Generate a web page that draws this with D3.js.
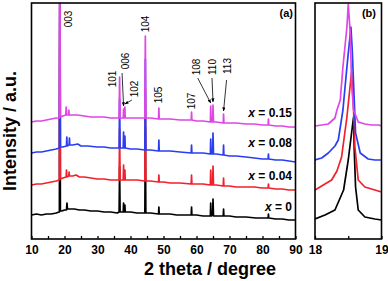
<!DOCTYPE html>
<html>
<head>
<meta charset="utf-8">
<script src="https://cdn.jsdelivr.net/npm/d3@7"></script>
<style>
  body { margin: 0; background: #fff; }
  svg { display: block; font-family: "Liberation Sans", Arial, sans-serif; }
</style>
</head>
<body>
<div id="container"></div>
<script>
const width = 388;
const height = 281;

// series names, colours
const seriesNames = ['x = 0', 'x = 0.04', 'x = 0.08', 'x = 0.15'];
const seriesColors = ['#000000', '#f2202c', '#2b3df2', '#e046e6'];

// panel (a): [2theta, intensity a.u.]
const patternX0 = [[10,24],[11.5,25],[13,24],[14.5,25],[16,25],[17.5,26],[18.3,27],[18.45,27],[18.6,280],[18.75,28],[19.2,28],[20,29],[20.6,29],[20.75,36],[20.9,30],[21.6,30],[23,30],[24.5,29],[26,29],[28,28],[30,28],[32,27],[34,27],[36,26],[36.55,27],[36.7,72],[36.85,27],[37.8,27],[37.9,36],[38.0,27],[38.2,28],[38.3,34],[38.4,27],[40,27],[42,26],[44.35,26],[44.5,112],[44.65,26],[46,26],[48.5,25],[48.6,32],[48.7,25],[50,25],[52,25],[54,24],[56,24],[58.4,24],[58.5,32],[58.6,24],[60,24],[62,23],[64.2,23],[64.3,36],[64.45,23],[64.9,24],[65.0,40],[65.15,23],[66,23],[68.1,23],[68.2,30],[68.3,23],[70,23],[72,22],[75,22],[78,21],[80,21],[81.7,21],[81.8,25],[81.9,21],[84,20],[86,20],[88,19],[90,19]];
const patternX004 = [[10,54],[11.5,55],[13,55],[14.5,56],[16,57],[17.5,58],[18.45,59],[18.6,300],[18.75,60],[19.5,61],[20.5,62],[20.6,69],[20.7,62],[21.3,63],[21.4,67],[21.5,63],[22.5,63],[23.5,64],[24.5,62],[26,62],[28,61],[30,60],[32,60],[34,59],[36.55,59],[36.7,110],[36.85,59],[37.8,59],[37.9,74],[38.0,59],[38.2,59],[38.3,69],[38.4,59],[40,59],[42,59],[44.35,58],[44.5,150],[44.65,58],[46,58],[48.5,57],[48.6,64],[48.7,57],[50,57],[52,56],[55,56],[58.4,55],[58.5,64],[58.6,55],[60,55],[62,55],[64.2,54],[64.3,69],[64.45,54],[64.9,54],[65.0,73],[65.15,54],[66,54],[68.1,53],[68.2,61],[68.3,53],[70,53],[72,52],[75,52],[77.5,52],[80,51],[81.7,51],[81.8,55],[81.9,51],[84,50],[86,50],[88,49],[90,49]];
const patternX008 = [[10,86],[11.5,87],[13,87],[14.5,88],[16,89],[17.5,90],[18.45,91],[18.6,300],[18.75,92],[19.5,92],[20.6,93],[20.7,102],[20.8,93],[21.4,94],[21.5,101],[21.6,94],[22.5,94],[24,95],[25,93],[27,93],[30,92],[32,92],[34,91],[36.55,91],[36.7,140],[36.85,91],[37.8,91],[37.9,107],[38.0,91],[38.2,91],[38.3,103],[38.4,91],[40,90],[42,90],[44.35,89],[44.5,180],[44.65,89],[46,89],[48.5,88],[48.6,99],[48.7,88],[50,88],[52,88],[55,87],[58.4,86],[58.5,94],[58.6,86],[60,86],[62,86],[64.2,85],[64.3,100],[64.45,85],[64.9,85],[65.0,106],[65.15,85],[66,85],[68.1,84],[68.2,94],[68.3,84],[70,83],[72,83],[75,82],[77.5,81],[80,80],[81.7,80],[81.8,85],[81.9,80],[84,79],[86,79],[88,78],[90,77]];
const patternX015 = [[10,117],[11.5,118],[13,118],[14.5,119],[16,120],[17.5,121],[18.45,121],[18.6,320],[18.75,122],[19.5,123],[20.4,124],[20.5,132],[20.6,124],[21.2,124],[21.3,129],[21.4,124],[22.5,124],[24,124],[26,123],[28,122],[30,122],[32,122],[34,121],[36.55,121],[36.7,162],[36.85,121],[37.8,121],[37.9,130],[38.0,121],[38.2,121],[38.3,132],[38.4,121],[40,121],[42,121],[44.35,121],[44.5,203],[44.65,121],[46,121],[48.5,120],[48.6,131],[48.7,120],[50,120],[52,120],[55,119],[58.4,119],[58.5,127],[58.6,119],[60,118],[62,118],[64.2,117],[64.3,133],[64.45,117],[64.9,117],[65.0,134],[65.15,117],[66,117],[68.1,116],[68.2,125],[68.3,116],[70,116],[72,116],[75,115],[77.5,115],[80,114],[81.7,114],[81.8,120],[81.9,114],[84,113],[86,113],[88,112],[90,112]];

// panel (b): the (003) reflection, 18-19 degrees
const peak003X0 = [[18.0,20],[18.15,24],[18.3,29],[18.43,49],[18.5,79],[18.55,106],[18.58,122],[18.59,89],[18.61,52],[18.65,29],[18.75,22],[18.9,20],[19.0,19]];
const peak003X004 = [[18.0,49],[18.1,53],[18.25,59],[18.33,68],[18.4,82],[18.48,122],[18.55,167],[18.58,129],[18.6,92],[18.65,59],[18.75,52],[18.9,49],[19.0,47]];
const peak003X008 = [[18.0,79],[18.1,81],[18.2,86],[18.3,93],[18.35,99],[18.42,129],[18.48,172],[18.54,212],[18.56,189],[18.59,139],[18.61,106],[18.68,86],[18.8,80],[18.9,79],[19.0,79]];
const peak003X015 = [[18.0,113],[18.1,114],[18.2,115],[18.3,121],[18.33,129],[18.38,139],[18.42,172],[18.48,212],[18.5,235],[18.53,206],[18.55,156],[18.58,129],[18.65,117],[18.75,115],[18.85,114],[18.96,114],[19.0,113]];

// reflections marked in panel (a)
const hklLabels = ['003', '101', '006', '102', '104', '105', '107', '108', '110', '113'];
const hklAngles = [18.6, 36.7, 37.9, 38.3, 44.5, 48.6, 58.5, 64.3, 65.0, 68.2];

const xTicksA = [10, 20, 30, 40, 50, 60, 70, 80, 90];
const xTicksB = [18, 19];

const panelA = [patternX0, patternX004, patternX008, patternX015];
const panelB = [peak003X0, peak003X004, peak003X008, peak003X015];

// layout
const plotTop = 3, plotBottom = 239;
const aLeft = 31.5, aRight = 295.5;
const bLeft = 315, bRight = 381.5;

const xA = d3.scaleLinear().domain([10, 90]).range([aLeft, aRight]);
const xB = d3.scaleLinear().domain([18, 19]).range([bLeft, bRight]);
const y = d3.scaleLinear().domain([0, 236]).range([plotBottom, plotTop]);

const svg = d3.select('#container')
  .append('svg')
  .attr('width', width)
  .attr('height', height);

const defs = svg.append('defs');
defs.append('clipPath').attr('id', 'clipA')
  .append('rect').attr('x', aLeft).attr('y', plotTop).attr('width', aRight - aLeft).attr('height', plotBottom - plotTop);
defs.append('clipPath').attr('id', 'clipB')
  .append('rect').attr('x', bLeft).attr('y', plotTop).attr('width', bRight - bLeft).attr('height', plotBottom - plotTop);
defs.append('marker')
  .attr('id', 'arrow')
  .attr('viewBox', '0 0 10 10')
  .attr('refX', 9).attr('refY', 5)
  .attr('markerWidth', 5).attr('markerHeight', 5)
  .attr('orient', 'auto')
  .append('path').attr('d', 'M0,1 L10,5 L0,9 Z').attr('fill', '#000');

const lineA = d3.line().x(d => xA(d[0])).y(d => y(d[1]));
const lineB = d3.line().x(d => xB(d[0])).y(d => y(d[1]));

svg.append('g')
  .attr('clip-path', 'url(#clipA)')
  .selectAll('path')
  .data(panelA)
  .join('path')
  .attr('d', lineA)
  .attr('fill', 'none')
  .attr('stroke', (d, i) => seriesColors[i])
  .attr('stroke-width', 1.7)
  .attr('stroke-linejoin', 'round');

svg.append('g')
  .attr('clip-path', 'url(#clipB)')
  .selectAll('path')
  .data(panelB)
  .join('path')
  .attr('d', lineB)
  .attr('fill', 'none')
  .attr('stroke', (d, i) => seriesColors[i])
  .attr('stroke-width', 1.7)
  .attr('stroke-linejoin', 'round');

// axes, ticks point inward
const axisA = svg.append('g')
  .attr('transform', `translate(0,${plotBottom})`)
  .call(d3.axisBottom(xA)
    .tickValues(d3.range(10, 91, 5))
    .tickSize(-3)
    .tickPadding(6)
    .tickFormat(d => xTicksA.includes(d) ? d : ''));

const axisB = svg.append('g')
  .attr('transform', `translate(0,${plotBottom})`)
  .call(d3.axisBottom(xB)
    .tickValues([18, 18.5, 19])
    .tickSize(-3)
    .tickPadding(6)
    .tickFormat(d => xTicksB.includes(d) ? d : ''));

[axisA, axisB].forEach(ax => {
  ax.select('.domain').remove();
  ax.selectAll('.tick line').attr('stroke', '#000').attr('stroke-width', 1.3);
  ax.selectAll('.tick text')
    .attr('fill', '#000')
    .attr('font-size', 12)
    .attr('font-weight', 'bold')
    .attr('font-family', '"Liberation Sans", Arial, sans-serif');
});

// frames
svg.append('rect').attr('x', aLeft).attr('y', plotTop).attr('width', aRight - aLeft).attr('height', plotBottom - plotTop)
  .attr('fill', 'none').attr('stroke', '#000').attr('stroke-width', 1.6);
svg.append('rect').attr('x', bLeft).attr('y', plotTop).attr('width', bRight - bLeft).attr('height', plotBottom - plotTop)
  .attr('fill', 'none').attr('stroke', '#000').attr('stroke-width', 1.6);

// axis titles
svg.append('text')
  .attr('x', 210).attr('y', 275)
  .attr('text-anchor', 'middle')
  .attr('font-size', 18).attr('font-weight', 'bold')
  .text('2 theta / degree');

svg.append('text')
  .attr('transform', 'translate(16,131) rotate(-90)')
  .attr('text-anchor', 'middle')
  .attr('font-size', 18).attr('font-weight', 'bold')
  .text('Intensity / a.u.');

// panel tags
svg.append('text').attr('x', 293).attr('y', 17).attr('text-anchor', 'end')
  .attr('font-size', 11).attr('font-weight', 'bold').text('(a)');
svg.append('text').attr('x', 376).attr('y', 17).attr('text-anchor', 'end')
  .attr('font-size', 11).attr('font-weight', 'bold').text('(b)');

// series labels
const labelRise = [9, 10, 15, 10];
svg.append('g')
  .selectAll('text')
  .data(panelA)
  .join('text')
  .attr('x', 292)
  .attr('y', (d, i) => y(d[d.length - 1][1]) - labelRise[i])
  .attr('text-anchor', 'end')
  .attr('font-size', 12)
  .attr('font-weight', 'bold')
  .each(function (d, i) {
    const t = d3.select(this);
    t.append('tspan').attr('font-style', 'italic').text('x');
    t.append('tspan').text(seriesNames[i].slice(1));
  });

// hkl labels: dx from peak, label centre y, arrow start
const hklLayout = {
  '003': { dx: 8.5, cy: 19 },
  '101': { dx: -7.5, cy: 79 },
  '006': { dx: 1.5, cy: 61, arrow: [-1.5, 73] },
  '102': { dx: 10, cy: 89, arrow: [7, 100] },
  '104': { dx: 0, cy: 24 },
  '105': { dx: 0, cy: 95 },
  '107': { dx: 0, cy: 101 },
  '108': { dx: -14, cy: 67, arrow: [-13, 78] },
  '110': { dx: -1, cy: 67, arrow: [-1, 78] },
  '113': { dx: 4, cy: 66, arrow: [3, 80] }
};

const hkl = svg.append('g').attr('font-size', 10);
hklLabels.forEach((lab, i) => {
  const L = hklLayout[lab];
  const px = xA(hklAngles[i]);
  hkl.append('text')
    .attr('transform', `translate(${px + L.dx},${L.cy}) rotate(-90)`)
    .attr('text-anchor', 'middle')
    .attr('dy', '0.36em')
    .text(lab);
  if (L.arrow) {
    const near = patternX015.filter(p => Math.abs(p[0] - hklAngles[i]) < 0.12);
    const top = d3.max(near, p => p[1]);
    hkl.append('line')
      .attr('x1', px + L.arrow[0]).attr('y1', L.arrow[1])
      .attr('x2', px).attr('y2', y(top) - 3)
      .attr('stroke', '#000').attr('stroke-width', 0.8)
      .attr('marker-end', 'url(#arrow)');
  }
});
</script>
</body>
</html>
